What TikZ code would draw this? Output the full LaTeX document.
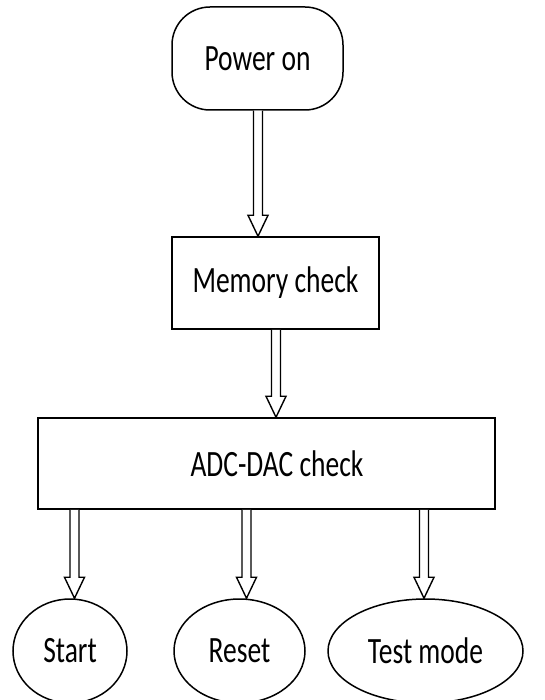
\documentclass[tikz,border=0pt]{standalone}
\usepackage{fontspec}
\setmainfont{Carlito}
\usetikzlibrary{calc,shapes.geometric}

% tall, slightly condensed label text
\newcommand\lbl[1]{\scalebox{1}[1.35]{#1}}

% hollow block arrow from point #1 straight down to point #2
\newcommand\hollowarrow[2]{%
  \draw[arrowline] let \p1=(#1), \p2=(#2) in
    (\x2-4.5pt,\y1) -- (\x2-4.5pt,\y2+21pt) -- (\x2-10pt,\y2+21pt) --
    (\x2,\y2) -- (\x2+10pt,\y2+21pt) -- (\x2+4.5pt,\y2+21pt) -- (\x2+4.5pt,\y1);
}

\begin{document}
\begin{tikzpicture}[x=1pt,y=-1pt,
  every node/.style={font=\fontsize{27.5}{33}\selectfont, inner sep=0pt},
  terminal/.style={draw, line width=1.5pt, rounded corners=38pt,
    minimum width=171pt, minimum height=103pt},
  process/.style={draw, line width=1.5pt},
  outcome/.style={draw, line width=1.5pt, ellipse, minimum height=104pt},
  arrowline/.style={draw, line width=1.4pt, line join=miter, fill=white}]
  \useasboundingbox (0,0) rectangle (545,700);

  \node[terminal] (pwr) at (257.5,58.5) {\lbl{Power on}};
  \node[process, minimum width=207pt, minimum height=92pt] (mem) at (275.5,283) {\lbl{Memory check}};
  \node[process, minimum width=457pt, minimum height=91pt] (adc) at (266.5,463.5) {\hspace*{21pt}\lbl{ADC-DAC check}};

  \node[outcome, minimum width=114pt] (start) at (70,651) {\lbl{Start}};
  \node[outcome, minimum width=131pt] (reset) at (239.5,651) {\lbl{Reset}};
  \node[outcome, minimum width=195pt] (test) at (425.5,651) {\lbl{Test mode}};

  \coordinate (tipmem) at (258,0);
  \coordinate (tipadc) at (276,0);
  \coordinate (tipstart) at (74.5,0);
  \coordinate (tipreset) at (246.5,0);
  \coordinate (tiptest) at (424,0);

  \hollowarrow{pwr.south}{tipmem |- mem.north}
  \hollowarrow{mem.south}{tipadc |- adc.north}
  \hollowarrow{adc.south}{tipstart |- start.north}
  \hollowarrow{adc.south}{tipreset |- reset.north}
  \hollowarrow{adc.south}{tiptest |- test.north}
\end{tikzpicture}
\end{document}
